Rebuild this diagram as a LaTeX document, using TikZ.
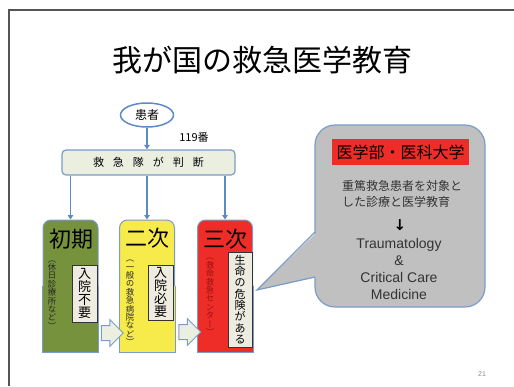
\documentclass[tikz,border=0pt]{standalone}
\usepackage{fontspec}
\setmainfont{Noto Sans CJK JP}
\newfontfamily\jpv{Noto Sans CJK JP}[RawFeature=+vert]
\newfontfamily\en{Liberation Sans}
\newfontfamily\sym{DejaVu Sans}
\usetikzlibrary{shapes.geometric,shapes.arrows,arrows.meta}
\definecolor{lineblue}{HTML}{5E8AC4}
\definecolor{borderblue}{HTML}{7A9CC8}
\definecolor{lightfill}{HTML}{EAEFE0}
\definecolor{tgreen}{HTML}{76923C}
\definecolor{tyellow}{HTML}{F6EB4B}
\definecolor{tred}{HTML}{EE2D28}
\definecolor{innerfill}{HTML}{EEECE1}
\definecolor{callgray}{HTML}{C0C0C0}
\definecolor{darktext}{HTML}{333333}
\definecolor{framegray}{HTML}{555555}
\definecolor{vred}{HTML}{9A1010}
\begin{document}
\begin{tikzpicture}[x=1pt,y=-1pt,
  conn/.style={draw=lineblue,line width=1.3pt,-{Triangle[width=5.5pt,length=4.5pt]}},
  tier/.style={draw=borderblue,line width=1pt,rounded corners=8pt,minimum width=55pt,minimum height=132pt,inner sep=0pt},
  tierhead/.style={inner sep=0pt,font=\fontsize{22}{22}\selectfont},
  vsmall/.style={inner sep=0pt,align=center,font=\jpv\fontsize{8.4}{8.4}\selectfont},
  innerbox/.style={draw=black!80,line width=0.7pt,fill=innerfill,inner sep=0pt,align=center},
  blockarrow/.style={single arrow,draw=borderblue,line width=1pt,fill=lightfill,
    minimum height=22pt,inner xsep=0pt,inner ysep=7pt,single arrow head extend=6pt,
    single arrow tip angle=90}
]
\useasboundingbox (0,0) rectangle (514,386);
% frame
\draw[framegray,line width=1.5pt] (9,386) -- (9,10) -- (514,10);
% title
\node[inner sep=0pt] (title) at (262.5,60) {\fontsize{30}{30}\selectfont 我が国の救急医学教育};
% patient
\node[ellipse,draw=lineblue,line width=1.5pt,fill=white,minimum width=53pt,minimum height=24pt,inner sep=0pt] (pat) at (147,115) {\fontsize{12}{12}\selectfont 患者};
\node[inner sep=0pt] (n119) at (194,137) {\fontsize{11}{11}\selectfont 119番};
% judge
\node[draw=borderblue,fill=lightfill,rounded corners=4pt,line width=1.2pt,minimum width=173pt,minimum height=25pt,inner sep=0pt] (judge) at (148.5,162.5)
  {\fontsize{11}{11}\selectfont 救\hspace{9pt}急\hspace{9pt}隊\hspace{9pt}が\hspace{9pt}判\hspace{9pt}断};
\draw[conn] (pat.south) -- (pat.south |- judge.north);
% tiers
\node[tier,fill=tgreen] (green) at (70.5,286) {};
\fill[tgreen] (green.west) rectangle (green.south east);
\draw[draw=borderblue,line width=1pt] (green.west) |- (green.south east) -- (green.east);
\node[tier,fill=tyellow] (yellow) at (147,286) {};
\fill[tyellow] (yellow.west) rectangle (yellow.south east);
\draw[draw=borderblue,line width=1pt] (yellow.west) |- (yellow.south east) -- (yellow.east);
\node[tier,fill=tred] (red) at (225,286) {};
\fill[tred] (red.west) rectangle (red.south east);
\draw[draw=borderblue,line width=1pt] (red.west) |- (red.south east) -- (red.east);
\draw[conn] (judge.south -| green.north) -- (green.north);
\draw[conn] (judge.south -| yellow.north) -- (yellow.north);
\draw[conn] (judge.south -| red.north) -- (red.north);
% tier headings
\node[tierhead] (h1) at (71,239) {初期};
\node[tierhead] (h2) at (147.5,238) {二次};
\node[tierhead] (h3) at (225,239) {三次};
% vertical small texts
\node[vsmall,text=black!85] (v1) at (52,295) {（\\休\\日\\診\\療\\所\\な\\ど\\）};
\node[vsmall,text=black!85] (v2) at (130,303) {（\\一\\般\\の\\救\\急\\病\\院\\な\\ど\\）};
\node[vsmall,text=vred] (v3) at (210,297) {（\\救\\命\\救\\急\\セ\\ン\\タ\\ー\\）};
% inner boxes
\node[innerbox,minimum width=25pt,minimum height=57pt,font=\fontsize{13}{13.2}\selectfont] (i1) at (84.5,293.5) {入\\院\\不\\要};
\node[innerbox,minimum width=25pt,minimum height=55pt,font=\fontsize{13}{13.2}\selectfont] (i2) at (160.5,292.5) {入\\院\\必\\要};
\node[innerbox,minimum width=24pt,minimum height=95pt,font=\fontsize{11}{11.3}\selectfont] (i3) at (240,299.5) {生\\命\\の\\危\\険\\が\\あ\\る};
% block arrows
\node[blockarrow] (ba1) at (108.5,333) {};
\node[blockarrow] (ba2) at (186,332) {};
% callout
\node[draw=borderblue,fill=callgray,rounded corners=20pt,line width=1.2pt,minimum width=170pt,minimum height=182pt,inner sep=0pt] (call) at (400,216) {};
\coordinate (tip) at (257,290);
\fill[callgray] (317,232) -- (tip) -- (317,277) -- cycle;
\draw[borderblue,line width=1.2pt,line join=miter] (315,232) -- (tip) -- (315,277);
\node[fill=tred,minimum width=137pt,minimum height=26pt,inner sep=0pt] (lab) at (400.5,152) {\fontsize{16}{16}\selectfont 医学部・医科大学};
\node[anchor=west,align=left,inner sep=0pt,text=darktext,font=\fontsize{12}{16}\selectfont] (desc) at (342,194) {重篤救急患者を対象と\\した診療と医学教育};
\node[inner sep=0pt] (darr) at (400,225) {\sym\bfseries\fontsize{15}{15}\selectfont ↓};
\node[align=center,inner sep=0pt,text=darktext,font=\en\fontsize{14}{17}\selectfont] (eng) at (399,268.5) {Traumatology\\\&\\Critical Care\\Medicine};
% page number
\node[inner sep=0pt,text=black!45,font=\en\fontsize{7}{7}\selectfont] (pg) at (482,374) {21};
\end{tikzpicture}
\end{document}
